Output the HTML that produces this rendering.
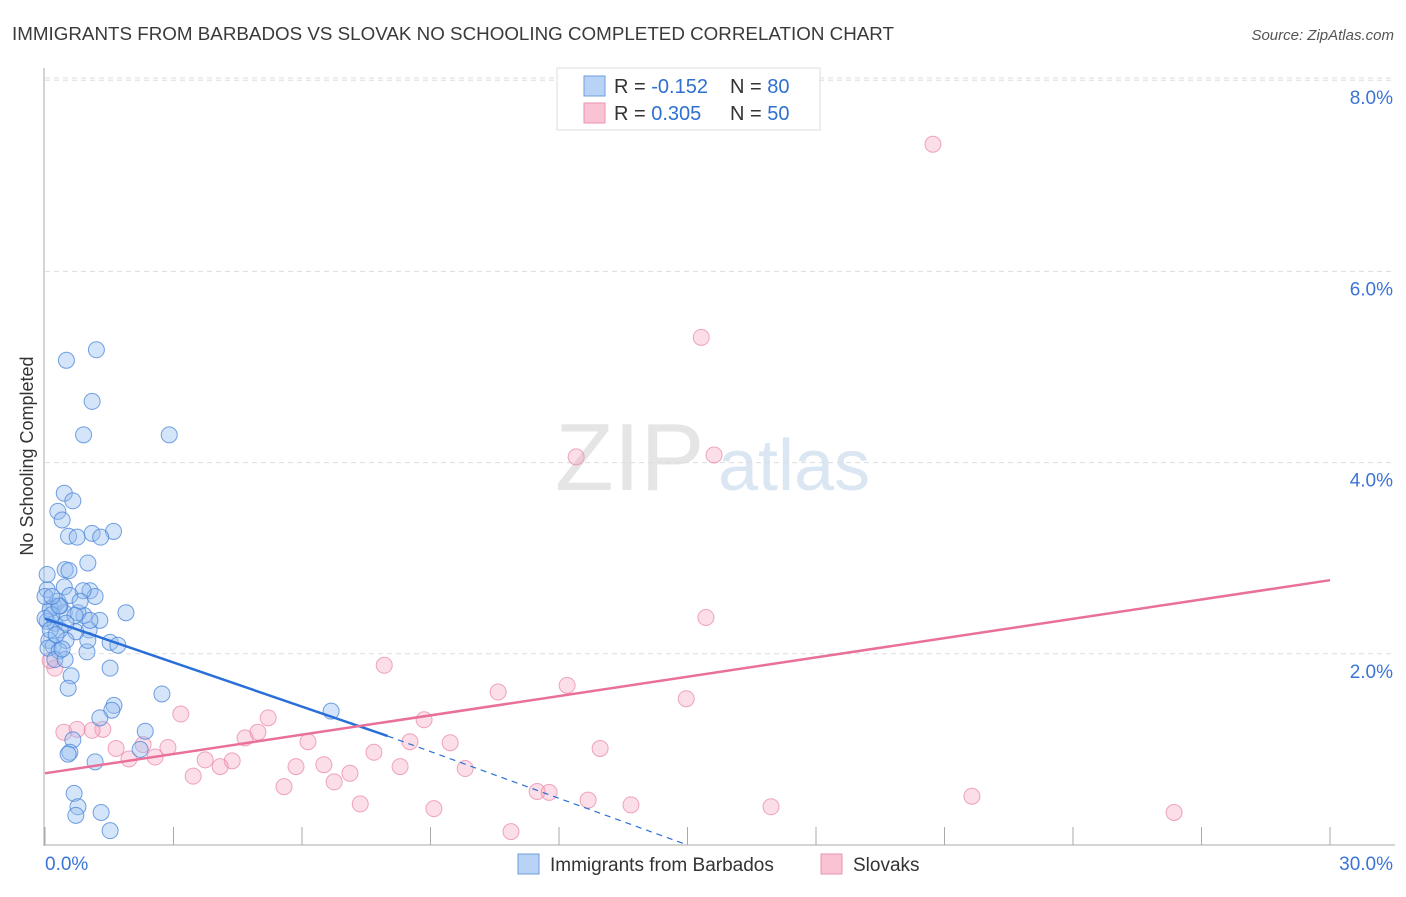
<!DOCTYPE html>
<html><head><meta charset="utf-8">
<style>
body{margin:0;background:#fff;font-family:"Liberation Sans",sans-serif;}
svg text{font-family:"Liberation Sans",sans-serif;}
</style></head>
<body>
<svg id="chart" width="1406" height="892" xmlns="http://www.w3.org/2000/svg">
<text x="12" y="40" font-size="18" fill="#3a3a3a" textLength="882" lengthAdjust="spacingAndGlyphs">IMMIGRANTS FROM BARBADOS VS SLOVAK NO SCHOOLING COMPLETED CORRELATION CHART</text>
<text x="1394" y="40" font-size="15" fill="#555" text-anchor="end" font-style="italic">Source: ZipAtlas.com</text>
<text transform="translate(33,456) rotate(-90)" font-size="18" fill="#333" text-anchor="middle">No Schooling Completed</text>
<g opacity="0.5">
<text x="555" y="490" font-size="96" font-family="Liberation Serif" fill="#ccc">ZIP</text>
<text x="718" y="490" font-size="72" fill="#b9cfe8">atlas</text>
</g>
<g id="grid"></g>
<g id="axes"></g>
<g id="points"></g>
<g id="trends"></g>
<g>
<rect x="557" y="68" width="263" height="62" fill="#fff" stroke="#ddd"/>
<rect x="584" y="76" width="21" height="20" fill="#b8d3f5" stroke="#6d9fde"/>
<rect x="584" y="103" width="21" height="20" fill="#f9c3d4" stroke="#eb93b0"/>
<text x="614" y="93" font-size="20" fill="#333">R = <tspan fill="#2f6fd1">-0.152</tspan></text>
<text x="730" y="93" font-size="20" fill="#333">N = <tspan fill="#2f6fd1">80</tspan></text>
<text x="614" y="120" font-size="20" fill="#333">R = <tspan fill="#2f6fd1"> 0.305</tspan></text>
<text x="730" y="120" font-size="20" fill="#333">N = <tspan fill="#2f6fd1">50</tspan></text>
</g>
<g>
<rect x="518" y="854" width="21" height="20" fill="#b8d3f5" stroke="#6d9fde"/>
<text x="550" y="871" font-size="19" fill="#333">Immigrants from Barbados</text>
<rect x="821" y="854" width="21" height="20" fill="#f9c3d4" stroke="#eb93b0"/>
<text x="853" y="871" font-size="19" fill="#333">Slovaks</text>
</g>
</svg>
<script>
const yTicks=[2,4,6,8];
const yTickLabels=["2.0%","4.0%","6.0%","8.0%"];
const xTicks=[0,3,6,9,12,15,18,21,24,27,30];
const xEndLabels=["0.0%","30.0%"];
const blueX=[1.2,0.5,1.1,0.9,2.9,0.45,0.65,0.3,0.4,0.55,0.75,1.1,1.6,1.3,1.0,0.47,0.56,0.05,0.45,1.05,1.17,0.89,1.89,0.91,0.21,0.3,0.12,0.05,0.23,0.45,0.35,0.72,1.03,0.09,0.49,0.19,1.52,1.7,0.98,0.07,0.33,1.52,0.61,0.54,2.73,6.68,1.61,1.56,1.28,2.34,0.65,0.58,0.54,2.22,1.17,0.68,0.77,0.72,1.31,1.52,0.0,0.23,0.12,0.35,0.0,0.47,0.16,0.77,0.05,0.40,0.33,1.28,0.58,0.26,0.82,1.05,0.70,0.16,0.49,1.00];
const blueY=[5.18,5.07,4.64,4.29,4.29,3.68,3.6,3.49,3.4,3.23,3.22,3.26,3.28,3.22,2.95,2.88,2.87,2.67,2.7,2.66,2.6,2.66,2.43,2.4,2.5,2.55,2.47,2.34,2.32,2.43,2.25,2.23,2.25,2.14,2.14,2.08,2.12,2.09,2.02,2.06,2.03,1.85,1.77,1.64,1.58,1.4,1.46,1.41,1.33,1.19,1.1,0.97,0.95,1.0,0.87,0.54,0.4,0.31,0.34,0.15,2.37,1.94,2.25,2.5,2.6,1.94,2.41,2.43,2.83,2.05,2.5,2.35,2.61,2.2,2.55,2.35,2.4,2.6,2.32,2.14];
const pinkX=[20.73,15.32,12.4,15.62,15.43,7.92,10.58,12.19,14.97,3.17,5.21,8.85,0.44,0.75,1.35,1.1,4.97,4.67,1.66,2.29,2.87,8.52,9.46,12.96,6.14,1.96,2.57,3.74,4.37,4.09,7.68,5.86,6.51,8.29,9.81,7.12,3.46,6.75,5.58,11.49,11.77,12.68,21.64,7.36,9.08,13.68,16.95,26.36,10.88,0.23,0.12];
const pinkY=[7.33,5.31,4.06,4.08,2.38,1.88,1.6,1.67,1.53,1.37,1.33,1.31,1.18,1.21,1.21,1.2,1.18,1.12,1.01,1.05,1.02,1.08,1.07,1.01,1.08,0.9,0.92,0.89,0.88,0.82,0.97,0.82,0.84,0.82,0.8,0.75,0.72,0.66,0.61,0.56,0.55,0.47,0.51,0.43,0.38,0.42,0.4,0.34,0.14,1.85,1.93];
const blueTrend=[[0,2.37],[8.0,1.14]];
const blueTrendDash=[[8.0,1.14],[15.0,0.0]];
const pinkTrend=[[0,0.75],[30,2.77]];

const NS="http://www.w3.org/2000/svg";
const X0=45,X1=1330,Y0=845,PY=95.6;
const xs=v=>X0+v*(X1-X0)/30;
const ys=v=>Y0-v*PY;
function mk(tag,attrs,parent){const e=document.createElementNS(NS,tag);for(const k in attrs)e.setAttribute(k,attrs[k]);document.getElementById(parent).appendChild(e);return e;}

yTicks.forEach((t,i)=>{
  const l=mk('line',{x1:45,x2:1395,y1:ys(t),y2:ys(t),stroke:'#ddd','stroke-dasharray':'5,4'},'grid');
  
  
  const tx=mk('text',{x:1393,y:ys(t)+24,'font-size':19,fill:'#3b74d6','text-anchor':'end'},'grid');
  tx.textContent=yTickLabels[i];
  
  
});
const topGrid=mk('line',{x1:45,x2:1395,y1:78,y2:78,stroke:'#ddd','stroke-dasharray':'5,4'},'grid');


const ya=mk('line',{x1:44,x2:44,y1:68,y2:846,stroke:'#aaa'},'axes');


const xa=mk('line',{x1:44,x2:1395,y1:845,y2:845,stroke:'#aaa'},'axes');


xTicks.forEach(t=>{
  const l=mk('line',{x1:xs(t),x2:xs(t),y1:827,y2:845,stroke:'#aaa'},'axes');
  
  
});
const xl0=mk('text',{x:45,y:870,'font-size':19,fill:'#3b74d6'},'axes');xl0.textContent=xEndLabels[0];


const xl1=mk('text',{x:1393,y:870,'font-size':19,fill:'#3b74d6','text-anchor':'end'},'axes');xl1.textContent=xEndLabels[1];



pinkX.forEach((v,i)=>{
  const c=mk('circle',{cx:xs(v),cy:ys(pinkY[i]),r:8,fill:'rgba(245,160,190,0.35)',stroke:'rgba(232,130,165,0.7)','stroke-width':1},'points');
  
  
});
blueX.forEach((v,i)=>{
  const c=mk('circle',{cx:xs(v),cy:ys(blueY[i]),r:8,fill:'rgba(150,190,240,0.4)',stroke:'rgba(70,130,215,0.75)','stroke-width':1},'points');
  
  
});
const bt=mk('line',{x1:xs(blueTrend[0][0]),y1:ys(blueTrend[0][1]),x2:xs(blueTrend[1][0]),y2:ys(blueTrend[1][1]),stroke:'#2a6fd8','stroke-width':2.5},'trends');


const bd=mk('line',{x1:xs(blueTrendDash[0][0]),y1:ys(blueTrendDash[0][1]),x2:xs(blueTrendDash[1][0]),y2:ys(blueTrendDash[1][1]),stroke:'#2a6fd8','stroke-width':1.2,'stroke-dasharray':'6,5'},'trends');


const pt=mk('line',{x1:xs(pinkTrend[0][0]),y1:ys(pinkTrend[0][1]),x2:xs(pinkTrend[1][0]),y2:ys(pinkTrend[1][1]),stroke:'#e8709a','stroke-width':2.5},'trends');


</script>
</body></html>
